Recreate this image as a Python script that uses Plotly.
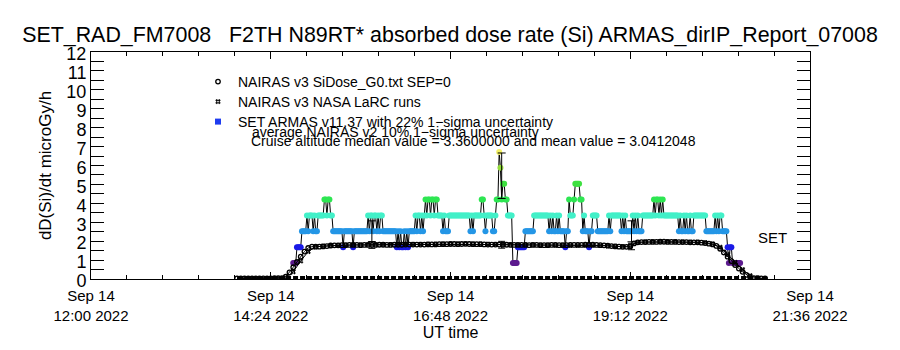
import pandas as pd
import plotly.graph_objects as go

DAY = "2022-09-14 12:00"
BASE = pd.Timestamp(DAY)

# ---------------- data (times in minutes after 12:00 UT) ----------------
# SET ARMAS v11.37 dose rate, one record per minute starting 14:42 UT
armas_start_min = 162
armas_dose = [
    0.84, 0.84, 0.84, 1.68, 1.68, 1.68, 1.68, 2.52, 2.52, 2.52,   # 14:42
    2.52, 3.36, 2.52, 3.36, 3.36, 3.36, 2.52, 3.36, 2.52, 2.52,   # 14:52
    3.36, 3.36, 3.36, 3.36, 3.36, 4.20, 4.20, 3.36, 4.20, 4.20,   # 15:02
    3.36, 3.36, 2.52, 2.52, 2.52, 2.52, 2.52, 2.52, 2.52, 2.52,   # 15:12
    1.68, 2.52, 2.52, 2.52, 2.52, 2.52, 2.52, 2.52, 1.68, 2.52,   # 15:22
    2.52, 2.52, 2.52, 2.52, 2.52, 2.52, 2.52, 2.52, 2.52, 2.52,   # 15:32
    3.36, 2.52, 3.36, 3.36, 2.52, 3.36, 3.36, 2.52, 3.36, 2.52,   # 15:42
    3.36, 3.36, 2.52, 2.52, 2.52, 2.52, 2.52, 2.52, 2.52, 2.52,   # 15:52
    2.52, 2.52, 2.52, 1.68, 2.52, 1.68, 2.52, 1.68, 1.68, 2.52,   # 16:02
    1.68, 2.52, 1.68, 2.52, 2.52, 2.52, 2.52, 2.52, 3.36, 2.52,   # 16:12
    3.36, 3.36, 2.52, 3.36, 2.52, 3.36, 4.20, 3.36, 4.20, 4.20,   # 16:22
    3.36, 4.20, 4.20, 3.36, 4.20, 4.20, 3.36, 3.36, 3.36, 3.36,   # 16:32
    2.52, 3.36, 2.52, 2.52, 2.52, 3.36, 3.36, 3.36, 3.36, 3.36,   # 16:42
    3.36, 3.36, 3.36, 3.36, 3.36, 3.36, 3.36, 3.36, 3.36, 3.36,   # 16:52
    3.36, 3.36, 2.52, 3.36, 2.52, 3.36, 3.36, 3.36, 3.36, 3.36,   # 17:02
    3.36, 4.20, 4.20, 3.36, 2.52, 3.36, 3.36, 3.36, 3.36, 3.36,   # 17:12
    2.52, 2.52, 3.36, 4.20, 4.20, 6.72, 5.88, 4.20, 5.04, 5.04,   # 17:22
    4.20, 4.20, 3.36, 3.36, 3.36, 3.36, 0.84, 0.84, 0.84, 0.84,   # 17:32
    1.68, 1.68, 1.68, 1.68, 1.68, 1.68, 2.52, 2.52, 2.52, 2.52,   # 17:42
    2.52, 2.52, 2.52, 3.36, 3.36, 3.36, 3.36, 3.36, 3.36, 3.36,   # 17:52
    3.36, 3.36, 3.36, 3.36, 3.36, 2.52, 3.36, 2.52, 3.36, 2.52,   # 18:02
    2.52, 3.36, 2.52, 3.36, 2.52, 2.52, 2.52, 2.52, 1.68, 2.52,   # 18:12
    2.52, 4.20, 3.36, 3.36, 3.36, 4.20, 5.04, 5.04, 5.04, 5.04,   # 18:22
    4.20, 4.20, 2.52, 3.36, 2.52, 2.52, 2.52, 1.68, 2.52, 2.52,   # 18:32
    3.36, 3.36, 3.36, 3.36, 2.52, 2.52, 2.52, 2.52, 2.52, 2.52,   # 18:42
    2.52, 2.52, 2.52, 3.36, 2.52, 3.36, 3.36, 3.36, 3.36, 3.36,   # 18:52
    3.36, 3.36, 3.36, 2.52, 3.36, 2.52, 3.36, 2.52, 2.52, 2.52,   # 19:02
    2.52, 2.52, 3.36, 2.52, 3.36, 2.52, 3.36, 2.52, 2.52, 2.52,   # 19:12
    3.36, 3.36, 3.36, 3.36, 3.36, 3.36, 3.36, 3.36, 3.36, 4.20,   # 19:22
    3.36, 4.20, 4.20, 3.36, 4.20, 3.36, 4.20, 3.36, 3.36, 3.36,   # 19:32
    3.36, 3.36, 3.36, 3.36, 3.36, 3.36, 3.36, 3.36, 3.36, 2.52,   # 19:42
    3.36, 2.52, 2.52, 3.36, 2.52, 3.36, 2.52, 2.52, 3.36, 2.52,   # 19:52
    2.52, 3.36, 3.36, 3.36, 3.36, 3.36, 3.36, 3.36, 3.36, 3.36,   # 20:02
    3.36, 2.52, 2.52, 2.52, 2.52, 2.52, 2.52, 2.52, 3.36, 2.52,   # 20:12
    3.36, 2.52, 3.36, 3.36, 2.52, 2.52, 2.52, 2.52, 1.68, 0.84,   # 20:22
    1.68, 1.68, 0.84, 0.84, 0.84, 0.84, 0.84, 0.84, 0.84,         # 20:32
]

# NAIRAS v3 SiDose_G0.txt (SEP=0), 3-minute steps from 13:57 UT
nairas_start_min, nairas_step_min = 117, 3
nairas_dose = [
    0.03, 0.03, 0.03, 0.03, 0.03, 0.03, 0.03, 0.03, 0.03, 0.03,
    0.04, 0.04, 0.05, 0.12, 0.35, 0.62, 0.90, 1.18, 1.45, 1.64,
    1.71, 1.71, 1.71, 1.72, 1.74, 1.77, 1.78, 1.78,
    1.79, 1.79, 1.80, 1.80, 1.80, 1.79, 1.80, 1.80, 1.80, 1.80,
    1.81, 1.81, 1.80, 1.80, 1.81, 1.81, 1.81, 1.82, 1.82, 1.82,
    1.82, 1.82, 1.82, 1.83, 1.83, 1.83, 1.84, 1.84, 1.84, 1.85,
    1.85, 1.84, 1.85, 1.86, 1.85, 1.84, 1.84, 1.84, 1.83, 1.82,
    1.82, 1.82, 1.82, 1.81, 1.81, 1.80, 1.80,
    1.80, 1.80, 1.80, 1.79, 1.80, 1.80, 1.79, 1.79, 1.79, 1.80,
    1.80, 1.79, 1.79, 1.79, 1.80, 1.80, 1.80, 1.80, 1.81, 1.81,
    1.81, 1.80, 1.79, 1.78, 1.76, 1.74, 1.72, 1.71, 1.70, 1.70,
    1.72,
    1.88, 1.94, 1.95, 1.95, 1.96, 1.96, 1.96, 1.97, 1.97, 1.96,
    1.96, 1.96, 1.95, 1.95, 1.95, 1.94, 1.94, 1.94, 1.92, 1.90,
    1.87, 1.83, 1.75, 1.60, 1.40, 1.18, 0.95, 0.74, 0.55, 0.38,
    0.22, 0.10, 0.05, 0.04, 0.03, 0.03,
]

# NAIRAS v3 NASA LaRC runs, 6-minute steps from 14:00 UT
larc_start_min, larc_step_min = 120, 6
larc_dose = [
    0.02, 0.02, 0.02, 0.02, 0.02, 0.02,
    0.04, 0.38, 0.95, 1.45, 1.70, 1.74, 1.76, 1.78, 1.79, 1.80,
    1.80, 1.81, 1.81, 1.82, 1.82, 1.82, 1.83, 1.83, 1.83, 1.84,
    1.84, 1.85, 1.86, 1.86, 1.86, 1.85, 1.85, 1.84, 1.83, 1.82,
    1.81, 1.80, 1.80, 1.80, 1.79, 1.79, 1.79, 1.79, 1.78, 1.78,
    1.78, 1.78, 1.77, 1.75, 1.73, 1.71, 1.74, 1.93, 1.96, 1.97,
    1.98, 1.97, 1.97, 1.96, 1.95, 1.95, 1.92, 1.86, 1.68, 1.30,
    0.88, 0.50, 0.18, 0.05, 0.02,
]

# SEP contribution (SEP=0) over the whole record
sep_minutes = [117, 542]
sep_dose = [0.0, 0.0]

# uncertainty markers
err_minutes = [225, 329, 433]
err_armas_dose = [2.52, 5.46, 2.52]      # 22 % 1-sigma
err_nairas_dose = [1.80, 1.81, 1.72]     # 10 % 1-sigma

# axis tick labels
xtick_minutes = [0, 144, 288, 432, 576]
xtick_text = ["Sep 14<br>12:00 2022", "Sep 14<br>14:24 2022", "Sep 14<br>16:48 2022",
              "Sep 14<br>19:12 2022", "Sep 14<br>21:36 2022"]

# dose-level colours (ARMAS quantisation steps)
level_colors = {0.84: "#5c1a8e", 1.68: "#1a1ae6", 2.52: "#2496e6", 3.36: "#42f0c8",
                4.20: "#2ee652", 5.04: "#3ee040", 5.88: "#94dc3c", 6.72: "#f2f064"}


def at(minutes):
    return [BASE + pd.Timedelta(minutes=m) for m in minutes]


armas_t = at([armas_start_min + i for i in range(len(armas_dose))])
nairas_t = at([nairas_start_min + nairas_step_min * i for i in range(len(nairas_dose))])
larc_t = at([larc_start_min + larc_step_min * i for i in range(len(larc_dose))])

FONT = "Liberation Sans"
LEG_FONT = dict(size=14, family=FONT)

fig = go.Figure()

# ARMAS: black connecting line + level-coloured blobs
fig.add_trace(go.Scatter(
    x=armas_t, y=armas_dose, mode="lines+markers", showlegend=False,
    line=dict(color="black", width=1),
    marker=dict(size=6, symbol="circle", color=[level_colors[v] for v in armas_dose],
                line=dict(width=0)),
))

# NAIRAS SiDose line + markers
fig.add_trace(go.Scatter(x=nairas_t, y=nairas_dose, mode="lines", showlegend=False,
                         line=dict(color="black", width=1)))
fig.add_trace(go.Scatter(x=nairas_t, y=nairas_dose, mode="markers", legend="legend",
                         name="NAIRAS v3 SiDose_G0.txt SEP=0",
                         marker=dict(symbol="circle-open", size=4.5, color="black",
                                     line=dict(width=1.3))))

# LaRC runs
fig.add_trace(go.Scatter(x=larc_t, y=larc_dose, mode="lines", showlegend=False,
                         line=dict(color="black", width=1)))
fig.add_trace(go.Scatter(x=larc_t, y=larc_dose, mode="markers", legend="legend2",
                         name="NAIRAS v3 NASA LaRC runs",
                         marker=dict(symbol="hash-open", size=5, color="black",
                                     line=dict(width=1, color="black"))))

# SEP = 0 row
fig.add_trace(go.Scatter(x=at(sep_minutes), y=sep_dose, mode="lines", showlegend=False,
                         line=dict(color="black", width=6, dash="5px,2px")))

# legend entry for ARMAS
fig.add_trace(go.Scatter(x=[None], y=[None], mode="markers", legend="legend3",
                         name="SET ARMAS v11.37 with 22% 1\u2212sigma uncertainty",
                         marker=dict(symbol="square", size=6, color="#1e3cf0")))

# error bars
fig.add_trace(go.Scatter(x=at(err_minutes), y=err_armas_dose, mode="markers", showlegend=False,
                         marker=dict(size=1, color="rgba(0,0,0,0)"),
                         error_y=dict(type="percent", value=22, color="black",
                                      thickness=1, width=4)))
fig.add_trace(go.Scatter(x=at(err_minutes), y=err_nairas_dose, mode="markers", showlegend=False,
                         marker=dict(size=1, color="rgba(0,0,0,0)"),
                         error_y=dict(type="percent", value=10, color="black",
                                      thickness=1, width=3.5)))


def legend_at(center_px):
    return dict(x=(198 - 91) / 719, y=(279 - (center_px - 13)) / 227,
                xanchor="left", yanchor="top", bgcolor="rgba(0,0,0,0)",
                font=LEG_FONT, itemwidth=30, borderwidth=0)


fig.update_layout(
    width=900, height=350,
    margin=dict(l=91, r=90, t=52, b=71),
    paper_bgcolor="white", plot_bgcolor="white",
    font=dict(family=FONT, color="black"),
    title=dict(text="SET_RAD_FM7008   F2TH N89RT* absorbed dose rate (Si) ARMAS_dirIP_Report_07008",
               x=0.5, xanchor="center", xref="container",
               y=1 - 35 / 350, yanchor="middle", yref="container",
               font=dict(size=21.4, family=FONT, color="black")),
    legend=legend_at(79),
    legend2=legend_at(99),
    legend3=legend_at(119),
    annotations=[
        dict(text="average NAIRAS v2 10% 1\u2212sigma uncertainty", xref="paper", yref="paper",
             x=(250 - 91) / 719, y=(279 - 132) / 227, xanchor="left", yanchor="middle",
             showarrow=False, font=LEG_FONT),
        dict(text="Cruise altitude median value = 3.3600000 and mean value = 3.0412048",
             xref="paper", yref="paper",
             x=(249 - 91) / 719, y=(279 - 141) / 227, xanchor="left", yanchor="middle",
             showarrow=False, font=LEG_FONT),
        dict(text="SET", xref="x", yref="y", x=BASE + pd.Timedelta(minutes=545.6), y=2.22,
             showarrow=False, font=dict(size=15, family=FONT)),
    ],
)

fig.update_xaxes(
    type="date", range=[BASE, BASE + pd.Timedelta(minutes=576)],
    tickmode="array", tickvals=at(xtick_minutes), ticktext=xtick_text,
    ticks="inside", ticklen=7, tickcolor="black", tickwidth=1,
    minor=dict(ticks="inside", ticklen=4, tickcolor="black", tick0=DAY,
               dtick=28.8 * 60 * 1000, showgrid=False),
    showline=True, linecolor="black", linewidth=1, mirror="allticks",
    showgrid=False, zeroline=False,
    tickfont=dict(size=15, family=FONT), ticklabelstandoff=3,
    title=dict(text="UT time", font=dict(size=16, family=FONT), standoff=4),
)
fig.update_yaxes(
    range=[0, 12], tick0=0, dtick=1,
    ticks="inside", ticklen=13, tickcolor="black", tickwidth=1,
    minor=dict(ticks="inside", ticklen=13, tickcolor="black", dtick=0.5, showgrid=False),
    showline=True, linecolor="black", linewidth=1, mirror="allticks",
    showgrid=False, zeroline=False,
    tickfont=dict(size=18, family=FONT), ticklabelshift=2,
    title=dict(text="dD(Si)/dt microGy/h", font=dict(size=17, family=FONT), standoff=10),
)

fig.write_html("out.html")
